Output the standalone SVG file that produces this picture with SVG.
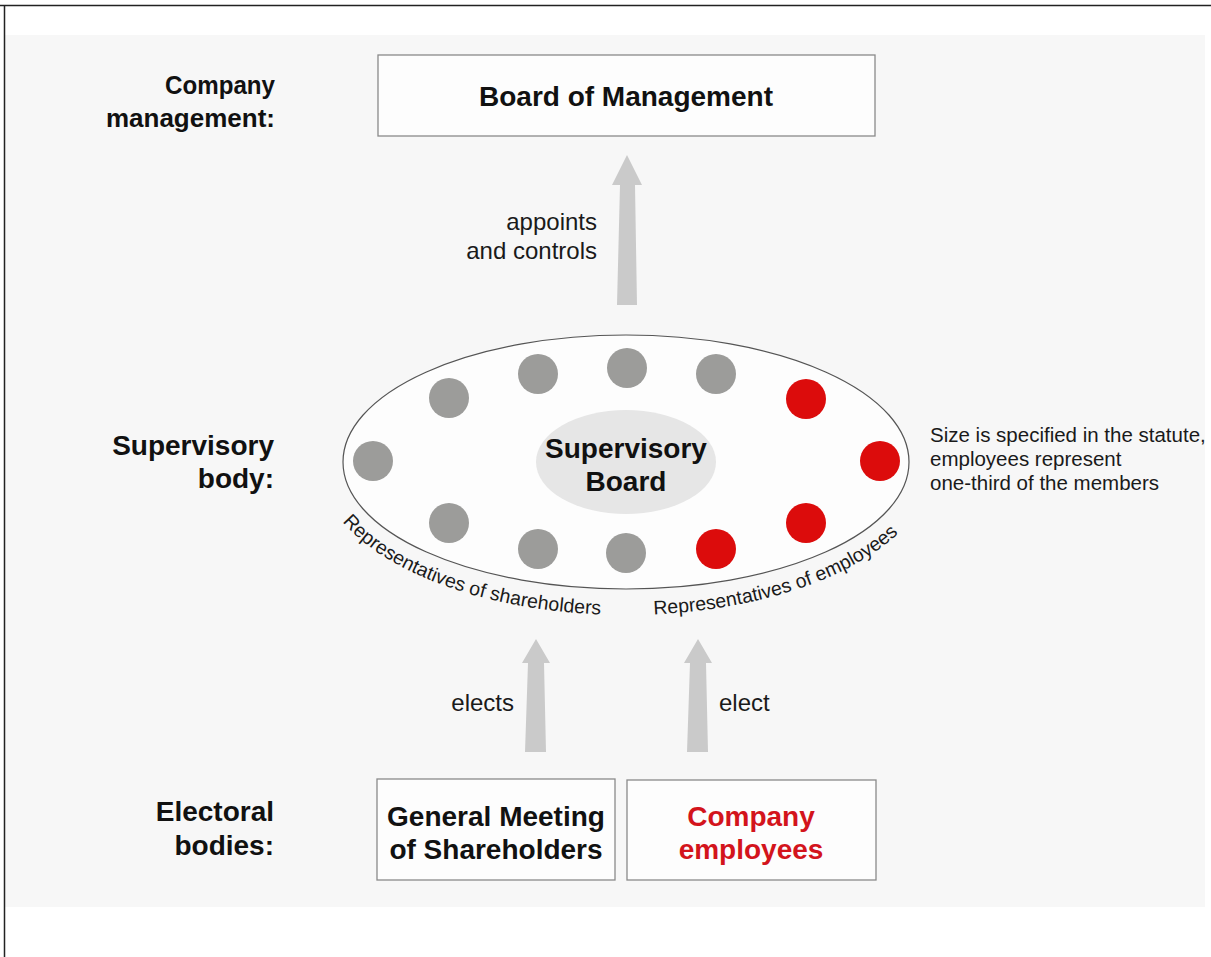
<svg xmlns="http://www.w3.org/2000/svg" width="1211" height="957" viewBox="0 0 1211 957">
<defs>
<style>
.b{font-family:"Liberation Sans",Arial,sans-serif;font-weight:bold;fill:#111}
.lbl{font-size:28px;text-anchor:end}
.lbs{font-size:26px;text-anchor:end}
.ttl{font-size:28px;text-anchor:middle}
.r{font-family:"Liberation Sans",Arial,sans-serif;fill:#1a1a1a}
.box{fill:#fdfdfd;stroke:#8a8a8a;stroke-width:1.3}
.gray{fill:#9c9c9a}
.red{fill:#dc0c0c}
.arrow{fill:#cacaca}
</style>
<path id="arc" d="M 318 462 A 308 153 0 0 0 934 462"/>
</defs>
<rect x="0" y="0" width="1211" height="957" fill="#ffffff"/>
<rect x="5" y="35" width="1200" height="872" fill="#f7f7f7"/>
<line x1="0" y1="5.5" x2="1211" y2="5.5" stroke="#222" stroke-width="1.5"/>
<line x1="4.5" y1="5" x2="4.5" y2="957" stroke="#222" stroke-width="1.5"/>

<g id="labels">
<text class="b lbs" x="275" y="94" textLength="110" lengthAdjust="spacingAndGlyphs">Company</text>
<text class="b lbs" x="275" y="127">management:</text>
<text class="b lbl" x="274" y="455">Supervisory</text>
<text class="b lbl" x="274" y="488">body:</text>
<text class="b lbl" x="274" y="821">Electoral</text>
<text class="b lbl" x="274" y="855">bodies:</text>
</g>

<g id="board-of-management">
<rect class="box" x="378" y="55" width="497" height="81"/>
<text class="b ttl" x="626" y="106" font-size="28.5">Board of Management</text>
</g>

<g id="supervisory-board">
<ellipse cx="626" cy="462" rx="283" ry="127" fill="#fdfdfd" stroke="#555" stroke-width="1.2"/>
<ellipse cx="626" cy="462" rx="90" ry="52" fill="#e6e6e6"/>
<text class="b ttl" x="626" y="458">Supervisory</text>
<text class="b ttl" x="626" y="491">Board</text>
<circle class="gray" cx="373" cy="461" r="20"/>
<circle class="gray" cx="449" cy="398" r="20"/>
<circle class="gray" cx="538" cy="374" r="20"/>
<circle class="gray" cx="627" cy="368" r="20"/>
<circle class="gray" cx="716" cy="374" r="20"/>
<circle class="gray" cx="449" cy="523" r="20"/>
<circle class="gray" cx="538" cy="549" r="20"/>
<circle class="gray" cx="626" cy="553" r="20"/>
<circle class="red" cx="806" cy="399" r="20"/>
<circle class="red" cx="880" cy="461" r="20"/>
<circle class="red" cx="806" cy="523" r="20"/>
<circle class="red" cx="716" cy="549" r="20"/>
<text class="r" font-size="19.5"><textPath href="#arc" startOffset="66">Representatives of shareholders</textPath></text>
<text class="r" font-size="19.5"><textPath href="#arc" startOffset="400">Representatives of employees</textPath></text>
</g>

<g id="note">
<text class="r" font-size="20.5" x="930" y="442">Size is specified in the statute,</text>
<text class="r" font-size="20.5" x="930" y="466">employees represent</text>
<text class="r" font-size="20.5" x="930" y="490">one-third of the members</text>
</g>

<g id="general-meeting">
<rect class="box" x="377" y="779" width="238" height="101"/>
<text class="b ttl" x="496" y="826">General Meeting</text>
<text class="b ttl" x="496" y="859">of Shareholders</text>
</g>

<g id="company-employees">
<rect class="box" x="627" y="780" width="249" height="100"/>
<text class="b ttl" x="751" y="826" style="fill:#d3141c">Company</text>
<text class="b ttl" x="751" y="859" style="fill:#d3141c">employees</text>
</g>

<g id="connectors">
<polygon class="arrow" points="627,155 642,185 635,185 637,305 617,305 620,185 612,185"/>
<polygon class="arrow" points="536,639 550,663 544,663 546,752 525,752 528,663 522,663"/>
<polygon class="arrow" points="698,639 712,663 706,663 708,752 687,752 690,663 684,663"/>
<text class="r" font-size="24" text-anchor="end" x="597" y="230">appoints</text>
<text class="r" font-size="24" text-anchor="end" x="597" y="259">and controls</text>
<text class="r" font-size="24" text-anchor="end" x="514" y="711">elects</text>
<text class="r" font-size="24" x="719" y="711">elect</text>
</g>
</svg>
